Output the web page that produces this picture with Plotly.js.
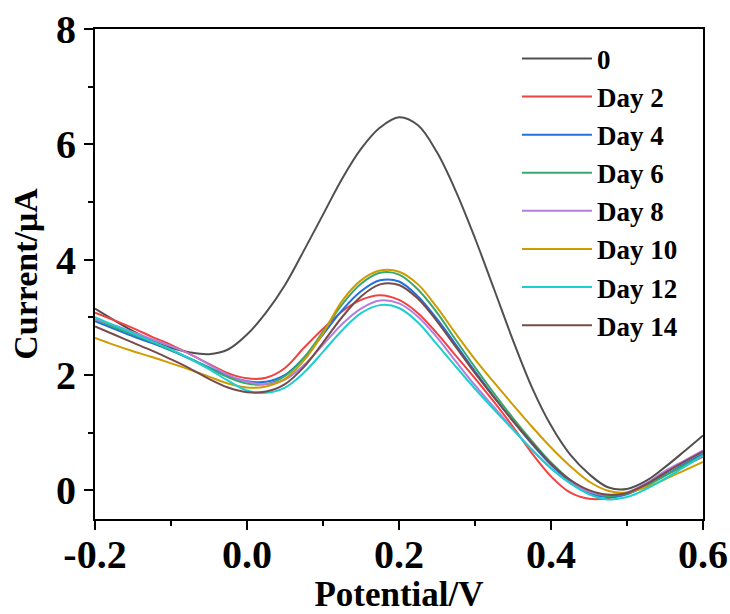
<!DOCTYPE html>
<html>
<head>
<meta charset="utf-8">
<script src="https://cdn.plot.ly/plotly-3.0.1.min.js"></script>
<style>
  html, body { margin: 0; padding: 0; background: #ffffff; }
  #chart { width: 730px; height: 614px; }
</style>
</head>
<body>
<div id="chart"></div>
<script>
// Potential (V) sample positions
const potential = [-0.2, -0.175, -0.15, -0.125, -0.1, -0.075, -0.05, -0.025, 0, 0.025, 0.05, 0.075, 0.1, 0.125, 0.15, 0.175, 0.2, 0.225, 0.25, 0.275, 0.3, 0.325, 0.35, 0.375, 0.4, 0.425, 0.45, 0.475, 0.5, 0.525, 0.55, 0.575, 0.6];

// Current (µA) per series
const day0  = [3.15, 2.95, 2.76, 2.59, 2.47, 2.39, 2.36, 2.44, 2.70, 3.08, 3.56, 4.16, 4.78, 5.40, 5.92, 6.29, 6.47, 6.33, 5.86, 5.18, 4.37, 3.49, 2.60, 1.78, 1.12, 0.62, 0.28, 0.05, 0.02, 0.16, 0.40, 0.67, 0.95];
const day2  = [3.08, 2.95, 2.81, 2.66, 2.52, 2.36, 2.19, 2.03, 1.94, 1.95, 2.12, 2.47, 2.80, 3.10, 3.30, 3.38, 3.30, 3.07, 2.72, 2.33, 1.94, 1.53, 1.10, 0.64, 0.24, -0.04, -0.15, -0.14, -0.05, 0.10, 0.26, 0.42, 0.58];
const day4  = [2.93, 2.80, 2.67, 2.55, 2.42, 2.28, 2.13, 1.98, 1.89, 1.88, 2.00, 2.30, 2.70, 3.12, 3.45, 3.64, 3.62, 3.36, 2.97, 2.52, 2.06, 1.62, 1.20, 0.80, 0.44, 0.15, -0.05, -0.12, -0.07, 0.08, 0.26, 0.45, 0.63];
const day6  = [2.96, 2.83, 2.70, 2.57, 2.43, 2.28, 2.12, 1.96, 1.85, 1.84, 1.98, 2.30, 2.75, 3.22, 3.58, 3.77, 3.74, 3.48, 3.08, 2.60, 2.13, 1.68, 1.25, 0.85, 0.48, 0.18, -0.02, -0.10, -0.06, 0.08, 0.25, 0.43, 0.61];
const day8  = [2.97, 2.86, 2.74, 2.62, 2.50, 2.36, 2.18, 2.00, 1.88, 1.84, 1.92, 2.17, 2.52, 2.88, 3.15, 3.29, 3.24, 3.01, 2.65, 2.23, 1.82, 1.44, 1.06, 0.70, 0.38, 0.13, -0.03, -0.08, -0.04, 0.12, 0.33, 0.51, 0.69];
const day10 = [2.64, 2.52, 2.41, 2.31, 2.20, 2.09, 1.97, 1.85, 1.78, 1.80, 1.93, 2.25, 2.72, 3.28, 3.64, 3.81, 3.79, 3.57, 3.17, 2.71, 2.27, 1.87, 1.48, 1.10, 0.74, 0.42, 0.15, -0.01, -0.04, 0.05, 0.19, 0.34, 0.49];
const day12 = [3.00, 2.86, 2.72, 2.58, 2.44, 2.28, 2.10, 1.90, 1.73, 1.69, 1.78, 2.04, 2.40, 2.77, 3.07, 3.21, 3.16, 2.91, 2.53, 2.14, 1.76, 1.40, 1.05, 0.70, 0.38, 0.12, -0.07, -0.16, -0.12, 0.02, 0.20, 0.40, 0.60];
const day14 = [2.84, 2.70, 2.56, 2.42, 2.27, 2.11, 1.93, 1.78, 1.70, 1.71, 1.84, 2.14, 2.56, 3.00, 3.36, 3.57, 3.56, 3.32, 2.93, 2.48, 2.03, 1.61, 1.20, 0.82, 0.46, 0.18, 0.00, -0.08, -0.05, 0.10, 0.30, 0.49, 0.67];

const seriesNames = ["0", "Day 2", "Day 4", "Day 6", "Day 8", "Day 10", "Day 12", "Day 14"];
const seriesValues = [day0, day2, day4, day6, day8, day10, day12, day14];
const seriesColors = ["#505050", "#F24141", "#2070E0", "#38A86A", "#B57EDC", "#CF9C00", "#1BCFCF", "#774B4B"];

const xTickVals = [-0.2, 0, 0.2, 0.4, 0.6];
const xTickText = ["-0.2", "0.0", "0.2", "0.4", "0.6"];
const yTickVals = [0, 2, 4, 6, 8];
const yTickText = ["0", "2", "4", "6", "8"];

const FONT = "Liberation Serif, Times New Roman, serif";

const traces = seriesNames.map((name, i) => ({
  type: "scatter",
  mode: "lines",
  name: name,
  x: potential,
  y: seriesValues[i],
  line: { color: seriesColors[i], width: 2, shape: "spline", smoothing: 1 }
}));

const axisCommon = {
  showgrid: false,
  zeroline: false,
  showline: true,
  linecolor: "#000000",
  linewidth: 2,
  mirror: true,
  ticks: "outside",
  ticklen: 9,
  tickwidth: 2,
  tickcolor: "#000000",
  tickfont: { family: FONT, size: 40, color: "#000000", weight: "bold" }
};

const layout = {
  width: 730,
  height: 614,
  margin: { l: 95, r: 27, t: 29, b: 95 },
  paper_bgcolor: "#ffffff",
  plot_bgcolor: "#ffffff",
  showlegend: true,
  legend: {
    x: 0.694, y: 0.989, xanchor: "left", yanchor: "top",
    itemwidth: 70,
    bgcolor: "rgba(0,0,0,0)",
    borderwidth: 0,
    font: { family: FONT, size: 27, color: "#000000", weight: "bold" }
  },
  xaxis: Object.assign({}, axisCommon, {
    range: [-0.2, 0.6],
    tickmode: "array",
    tickvals: xTickVals,
    ticktext: xTickText,
    ticklabelstandoff: -10,
    minor: { dtick: 0.1, tick0: -0.2, ticks: "outside", ticklen: 5, tickwidth: 2, tickcolor: "#000000", showgrid: false },
    title: { text: "Potential/V", standoff: 14, font: { family: FONT, size: 35, color: "#000000", weight: "bold" } }
  }),
  yaxis: Object.assign({}, axisCommon, {
    range: [-0.5, 8],
    tickmode: "array",
    tickvals: yTickVals,
    ticktext: yTickText,
    minor: { dtick: 1, tick0: 0, ticks: "outside", ticklen: 5, tickwidth: 2, tickcolor: "#000000", showgrid: false },
    title: { text: "Current/μA", standoff: 8, font: { family: FONT, size: 34, color: "#000000", weight: "bold" } }
  })
};

Plotly.newPlot("chart", traces, layout, { displayModeBar: false, staticPlot: true }).then(() => {
  // lengthen the legend line samples to fill the wider legend symbol area
  document.querySelectorAll("#chart .legendlines path").forEach(p => p.setAttribute("d", "M5,0h70"));
});
</script>
</body>
</html>
